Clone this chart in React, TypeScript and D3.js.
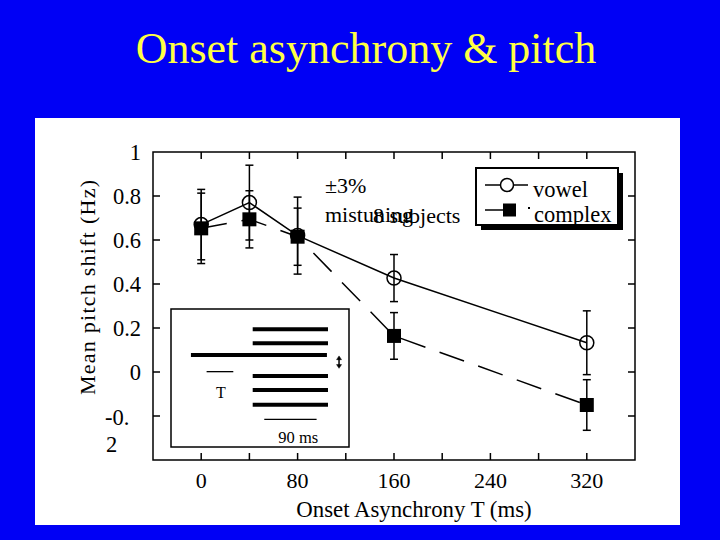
import React from "react";
import * as d3 from "d3";

const onsetMs = [0, 40, 80, 160, 320];
const vowelShift = [0.67, 0.77, 0.62, 0.427, 0.133];
const vowelErr = [0.16, 0.17, 0.175, 0.107, 0.145];
const complexShift = [0.653, 0.694, 0.615, 0.164, -0.15];
const complexErr = [0.16, 0.13, 0.13, 0.106, 0.115];
const xTicks = [0, 40, 80, 120, 160, 200, 240, 280, 320];
const xTickLabels = [0, 80, 160, 240, 320];
const yTicks = [-0.2, 0, 0.2, 0.4, 0.6, 0.8];
const yTickLabels = ["1", "0.8", "0.6", "0.4", "0.2", "0"];
const yTickLabelValues = [1, 0.8, 0.6, 0.4, 0.2, 0];

// inset schematic (arbitrary units 0..100)
const insetHarmonicsY = [14.7, 24.9, 48.6, 58.7, 69.3];
const insetHarmonicX = [45.9, 88.2];
const insetTargetY = 33.3;
const insetTargetX = [11.2, 87.6];

const FONT = "'Liberation Serif', 'Times New Roman', Times, serif";

export default function App() {
  const W = 720, H = 540;
  const left = 153, right = 635, top = 152, bottom = 460;
  const x = d3.scaleLinear().domain([-40, 360]).range([left, right]);
  const y = d3.scaleLinear().domain([-0.4, 1]).range([bottom, top]);
  const line = d3.line<number>().x((_, i) => x(onsetMs[i])).y((d) => y(d));
  const tl = 7;

  const ix = d3.scaleLinear().domain([0, 100]).range([171, 349]);
  const iy = d3.scaleLinear().domain([0, 100]).range([309, 447]);

  const errBars = (vals: number[], errs: number[], key: string) =>
    vals.map((v, i) => {
      const cx = x(onsetMs[i]);
      const y1 = y(v + errs[i]);
      const y2 = y(v - errs[i]);
      return (
        <g key={key + i} stroke="#000" strokeWidth={1.5}>
          <line x1={cx} x2={cx} y1={y1} y2={y2} />
          <line x1={cx - 4} x2={cx + 4} y1={y1} y2={y1} />
          <line x1={cx - 4} x2={cx + 4} y1={y2} y2={y2} />
        </g>
      );
    });

  return (
    <div style={{ position: "absolute", left: 0, top: 0 }}>
      <svg width={W} height={H} style={{ display: "block" }} fontFamily={FONT}>
        <rect x={0} y={0} width={W} height={H} fill="#0000f5" />
        <text x={366} y={63} textAnchor="middle" fontSize={44} fill="#ffff44">
          Onset asynchrony &amp; pitch
        </text>
        <rect x={35} y={118} width={645} height={407} fill="#fff" />

        {/* frame */}
        <rect x={left} y={top} width={right - left} height={bottom - top} fill="none" stroke="#000" strokeWidth={1.5} />
        {xTicks.map((t) => (
          <g key={"xt" + t} stroke="#000" strokeWidth={1.5}>
            <line x1={x(t)} x2={x(t)} y1={bottom} y2={bottom - tl} />
            <line x1={x(t)} x2={x(t)} y1={top} y2={top + tl} />
          </g>
        ))}
        {yTicks.map((t) => (
          <g key={"yt" + t} stroke="#000" strokeWidth={1.5}>
            <line x1={left} x2={left + tl} y1={y(t)} y2={y(t)} />
            <line x1={right} x2={right - tl} y1={y(t)} y2={y(t)} />
          </g>
        ))}
        {xTickLabels.map((t) => (
          <text key={"xl" + t} x={x(t)} y={488} textAnchor="middle" fontSize={22}>
            {t}
          </text>
        ))}
        {yTickLabels.map((s, i) => (
          <text key={"yl" + s} x={141} y={y(yTickLabelValues[i]) + 8} textAnchor="end" fontSize={22.5}>
            {s}
          </text>
        ))}
        <text x={105} y={y(-0.2) + 9} fontSize={22.5}>-0.</text>
        <text x={106} y={452} fontSize={22.5}>2</text>

        <text x={414} y={517} textAnchor="middle" fontSize={22.8}>
          Onset Asynchrony T (ms)
        </text>
        <text
          transform={`translate(95,${287.5}) rotate(-90)`}
          textAnchor="middle"
          fontSize={22}
          textLength={215}
          lengthAdjust="spacing"
        >
          Mean pitch shift (Hz)
        </text>

        {/* inset */}
        <rect x={ix(0)} y={iy(0)} width={ix(100) - ix(0)} height={iy(100) - iy(0)} fill="#fff" stroke="#000" strokeWidth={1.5} />
        {insetHarmonicsY.map((hy) => (
          <line key={"h" + hy} x1={ix(insetHarmonicX[0])} x2={ix(insetHarmonicX[1])} y1={iy(hy)} y2={iy(hy)} stroke="#000" strokeWidth={4} />
        ))}
        <line x1={ix(insetTargetX[0])} x2={ix(insetTargetX[1])} y1={iy(insetTargetY)} y2={iy(insetTargetY)} stroke="#000" strokeWidth={4} />
        <line x1={ix(20)} x2={ix(35)} y1={iy(45.4)} y2={iy(45.4)} stroke="#000" strokeWidth={1.3} />
        <text x={ix(28)} y={iy(64.5)} textAnchor="middle" fontSize={16}>T</text>
        <line x1={ix(52.4)} x2={ix(81.8)} y1={iy(80)} y2={iy(80)} stroke="#000" strokeWidth={1.3} />
        <text x={ix(71.5)} y={iy(96.9)} textAnchor="middle" fontSize={16.5}>90 ms</text>
        <g stroke="#000" fill="#000">
          <line x1={ix(94.4)} x2={ix(94.4)} y1={iy(36)} y2={iy(41)} strokeWidth={1.5} />
          <path d={`M${ix(94.4) - 2.5},${iy(36) + 1} L${ix(94.4) + 2.5},${iy(36) + 1} L${ix(94.4)},${iy(34)} Z`} strokeWidth={0.5} />
          <path d={`M${ix(94.4) - 2.5},${iy(41) - 1} L${ix(94.4) + 2.5},${iy(41) - 1} L${ix(94.4)},${iy(43)} Z`} strokeWidth={0.5} />
        </g>

        {/* data */}
        {errBars(vowelShift, vowelErr, "ve")}
        {errBars(complexShift, complexErr, "ce")}
        <path d={line(vowelShift) || ""} fill="none" stroke="#000" strokeWidth={1.5} />
        <path d={line(complexShift) || ""} fill="none" stroke="#000" strokeWidth={1.5} strokeDasharray="26 15" />
        {vowelShift.map((v, i) => (
          <circle key={"vc" + i} cx={x(onsetMs[i])} cy={y(v)} r={7} fill="none" stroke="#000" strokeWidth={1.5} />
        ))}
        {complexShift.map((v, i) => (
          <rect key={"cs" + i} x={x(onsetMs[i]) - 7} y={y(v) - 7} width={14} height={14} fill="#000" />
        ))}

        {/* annotations (overlap as in the reference) */}
        <text x={325} y={193} fontSize={22}>±3%</text>
        <text x={325} y={222} fontSize={22}>mistuning</text>
        <text x={373} y={223} fontSize={22}>8 subjects</text>

        {/* legend */}
        <rect x={481} y={173} width={142} height={57} fill="#000" />
        <rect x={476} y={168} width={142} height={57} fill="#fff" stroke="#000" strokeWidth={2} />
        <line x1={485} x2={528} y1={185} y2={185} stroke="#000" strokeWidth={1.5} />
        <circle cx={507} cy={185} r={6.5} fill="#fff" stroke="#000" strokeWidth={1.5} />
        <text x={533} y={197} fontSize={22.5}>vowel</text>
        <line x1={485} x2={505} y1={210} y2={210} stroke="#000" strokeWidth={1.5} />
        <rect x={503} y={203.5} width={13} height={13} fill="#000" />
        <rect x={528} y={207} width={2} height={2} fill="#000" />
        <text x={534} y={221.5} fontSize={22.5}>complex</text>
      </svg>
    </div>
  );
}
